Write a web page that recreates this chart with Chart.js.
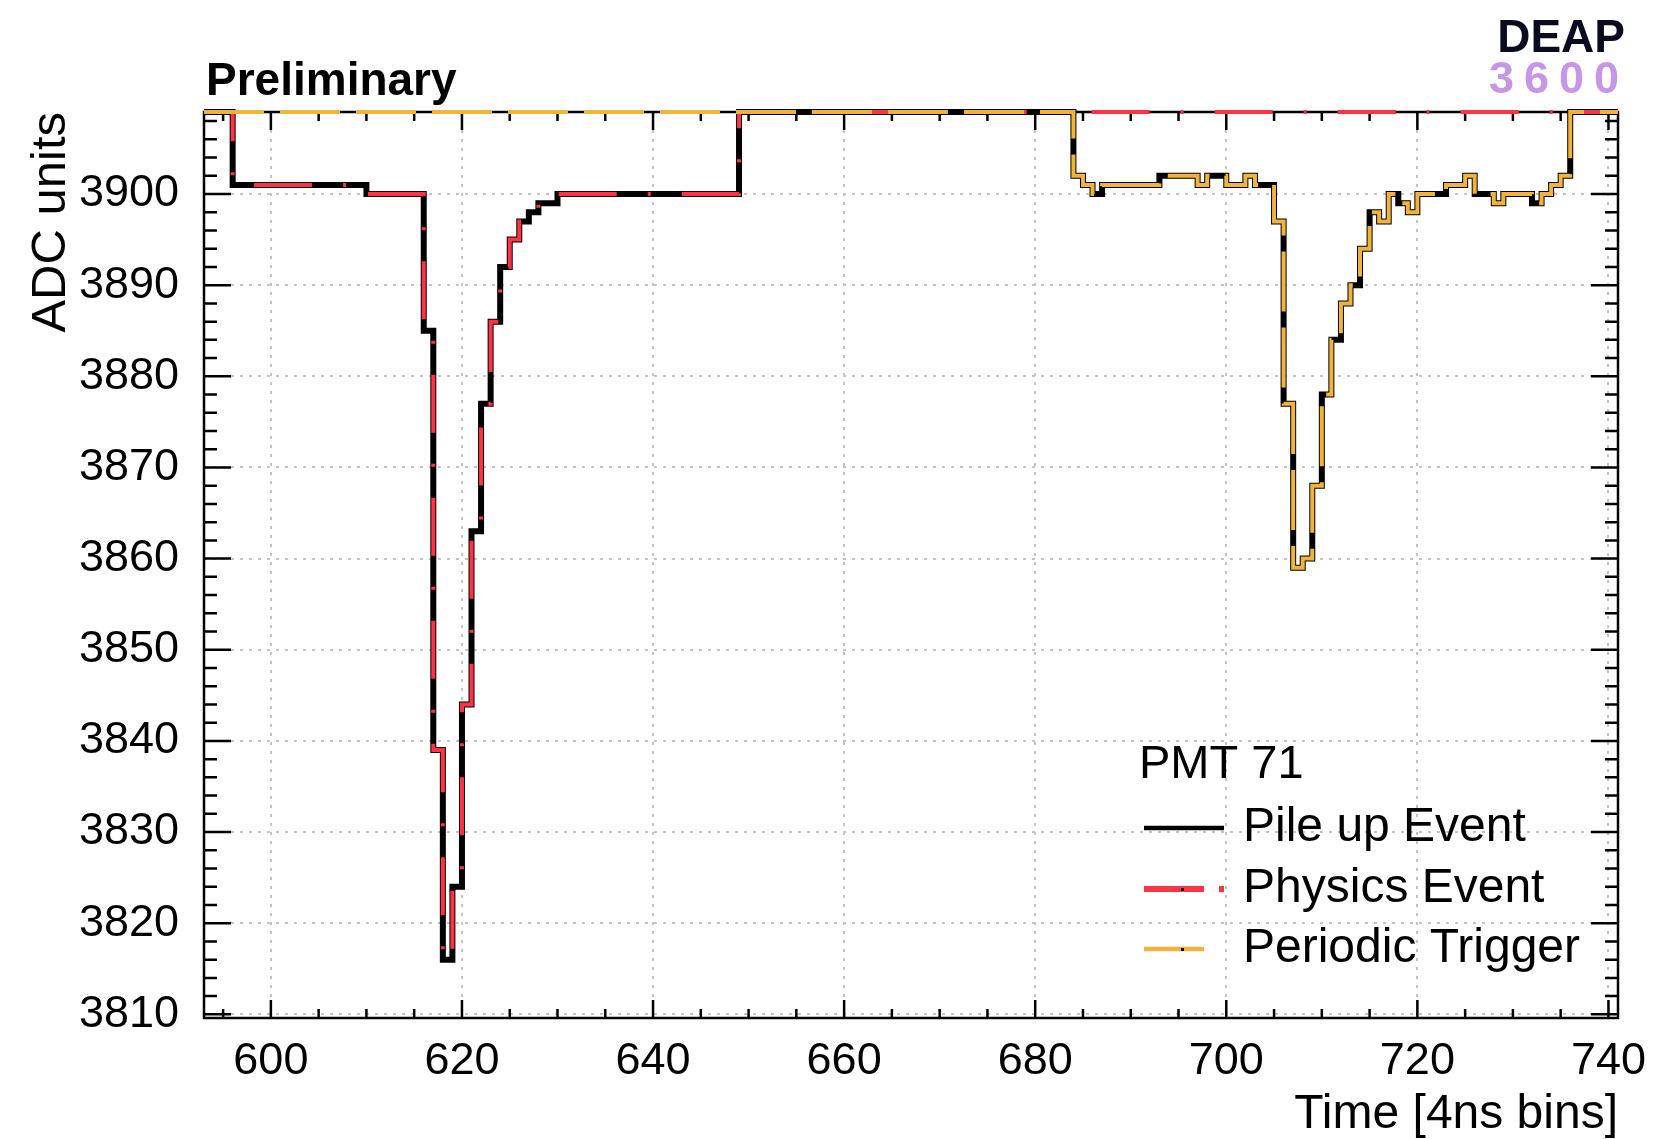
<!DOCTYPE html>
<html>
<head>
<meta charset="utf-8">
<script src="https://cdn.jsdelivr.net/npm/chart.js@4.4.1/dist/chart.umd.min.js"></script>
<style>
html,body{margin:0;padding:0;background:#ffffff;overflow:hidden;}
canvas{display:block;}
</style>
</head>
<body>
<canvas id="c" width="1654" height="1139"></canvas>
<script>
// ---------------- data ----------------
const OFF = 3920;            // off-scale sample (above the plotted range) -> drawn on the frame edge, as ROOT does
const startBin = 593;        // first 4 ns bin shown
const xMin = 593, xMax = 741;
const yMin = 3809.6, yMax = 3909;
const xTicks = [600, 620, 640, 660, 680, 700, 720, 740];
const yTicks = [3810, 3820, 3830, 3840, 3850, 3860, 3870, 3880, 3890, 3900];
const xMinorStep = 5, yMinorStep = 2;
const seriesNames = ['Pile up Event', 'Physics Event', 'Periodic Trigger'];
const legendHeader = 'PMT 71';
const xTitle = 'Time [4ns bins]';
const yTitle = 'ADC units';
const tagText = 'Preliminary';
const logoTop = 'DEAP', logoBottom = '3600';

// bins 593 ... 740, ten per row
const pileup = [
  OFF,OFF,OFF,3901,3901,3901,3901,3901,3901,3901,
  3901,3901,3901,3901,3901,3901,3901,3900,3900,3900,
  3900,3900,3900,3885,3839,3816,3824,3844,3863,3877,
  3886,3892,3895,3897,3898,3899,3899,3900,3900,3900,
  3900,3900,3900,3900,3900,3900,3900,3900,3900,3900,
  3900,3900,3900,3900,3900,3900,OFF,OFF,OFF,OFF,
  OFF,OFF,OFF,OFF,OFF,OFF,OFF,OFF,OFF,OFF,
  OFF,OFF,OFF,OFF,OFF,OFF,OFF,OFF,OFF,OFF,
  OFF,OFF,OFF,OFF,OFF,OFF,OFF,OFF,OFF,OFF,
  OFF,3902,3901,3900,3901,3901,3901,3901,3901,3901,
  3902,3902,3902,3902,3901,3902,3902,3901,3901,3902,
  3901,3901,3897,3877,3859,3860,3868,3878,3884,3888,
  3890,3894,3898,3897,3900,3899,3898,3900,3900,3900,
  3901,3901,3902,3900,3900,3899,3900,3900,3900,3899,
  3900,3901,3902,OFF,OFF,OFF,OFF,OFF
];
const physics = [
  OFF,OFF,OFF,3901,3901,3901,3901,3901,3901,3901,
  3901,3901,3901,3901,3901,3901,3901,3900,3900,3900,
  3900,3900,3900,3885,3839,3816,3824,3844,3863,3877,
  3886,3892,3895,3897,3898,3899,3899,3900,3900,3900,
  3900,3900,3900,3900,3900,3900,3900,3900,3900,3900,
  3900,3900,3900,3900,3900,3900,OFF,OFF,OFF,OFF,
  OFF,OFF,OFF,OFF,OFF,OFF,OFF,OFF,OFF,OFF,
  OFF,OFF,OFF,OFF,OFF,OFF,OFF,OFF,OFF,OFF,
  OFF,OFF,OFF,OFF,OFF,OFF,OFF,OFF,OFF,OFF,
  OFF,OFF,OFF,OFF,OFF,OFF,OFF,OFF,OFF,OFF,
  OFF,OFF,OFF,OFF,OFF,OFF,OFF,OFF,OFF,OFF,
  OFF,OFF,OFF,OFF,OFF,OFF,OFF,OFF,OFF,OFF,
  OFF,OFF,OFF,OFF,OFF,OFF,OFF,OFF,OFF,OFF,
  OFF,OFF,OFF,OFF,OFF,OFF,OFF,OFF,OFF,OFF,
  OFF,OFF,OFF,OFF,OFF,OFF,OFF,OFF
];
const periodic = [
  OFF,OFF,OFF,OFF,OFF,OFF,OFF,OFF,OFF,OFF,
  OFF,OFF,OFF,OFF,OFF,OFF,OFF,OFF,OFF,OFF,
  OFF,OFF,OFF,OFF,OFF,OFF,OFF,OFF,OFF,OFF,
  OFF,OFF,OFF,OFF,OFF,OFF,OFF,OFF,OFF,OFF,
  OFF,OFF,OFF,OFF,OFF,OFF,OFF,OFF,OFF,OFF,
  OFF,OFF,OFF,OFF,OFF,OFF,OFF,OFF,OFF,OFF,
  OFF,OFF,OFF,OFF,OFF,OFF,OFF,OFF,OFF,OFF,
  OFF,OFF,OFF,OFF,OFF,OFF,OFF,OFF,OFF,OFF,
  OFF,OFF,OFF,OFF,OFF,OFF,OFF,OFF,OFF,OFF,
  OFF,3902,3901,3900,3901,3901,3901,3901,3901,3901,
  3902,3902,3902,3902,3901,3902,3902,3901,3901,3902,
  3901,3901,3897,3877,3859,3860,3868,3878,3884,3888,
  3890,3894,3898,3897,3900,3899,3898,3900,3900,3900,
  3901,3901,3902,3900,3900,3899,3900,3900,3900,3899,
  3900,3901,3902,OFF,OFF,OFF,OFF,OFF
];

// ---------------- styling ----------------
const FONT = "'Liberation Sans', Arial, Helvetica, sans-serif";
const BLACK = '#000000', RED = '#fd3446', ORANGE = '#f0b33d';
const styles = [
  {color: BLACK, width: 6, dash: []},
  {color: RED, width: 4, dash: [58, 31, 3, 31]},
  {color: ORANGE, width: 4, dash: [60, 16]}
];

// histogram -> step points at the bin edges (off-scale content sits on the frame edge)
function histPoints(vals) {
  const pts = vals.map((v, i) => ({x: startBin + i, y: Math.min(v, yMax)}));
  pts.push({x: startBin + vals.length, y: Math.min(vals[vals.length - 1], yMax)});
  return pts;
}

function ds(idx, vals, order) {
  const s = styles[idx];
  return {
    label: seriesNames[idx],
    data: histPoints(vals),
    borderColor: s.color,
    borderWidth: s.width,
    borderDash: s.dash,
    borderCapStyle: 'butt',
    borderJoinStyle: 'miter',
    stepped: 'before',
    pointRadius: 0,
    fill: false,
    order: order,
    clip: {left: 0, top: 8, right: 0, bottom: 0}
  };
}

const framePlugin = {
  id: 'rootFrame',
  beforeDatasetsDraw(chart) {
    const {ctx, chartArea: a, scales: {x, y}} = chart;
    ctx.save();
    ctx.strokeStyle = '#000';
    ctx.lineWidth = 2.5;
    ctx.beginPath();
    for (let v = Math.ceil(xMin / xMinorStep) * xMinorStep; v <= xMax; v += xMinorStep) {
      const px = x.getPixelForValue(v);
      const len = xTicks.includes(v) ? 18 : 9;
      ctx.moveTo(px, a.bottom); ctx.lineTo(px, a.bottom - len);
      ctx.moveTo(px, a.top); ctx.lineTo(px, a.top + len);
    }
    for (let v = Math.ceil(yMin / yMinorStep) * yMinorStep; v <= yMax; v += yMinorStep) {
      const py = y.getPixelForValue(v);
      const len = yTicks.includes(v) ? 27 : 13;
      ctx.moveTo(a.left, py); ctx.lineTo(a.left + len, py);
      ctx.moveTo(a.right, py); ctx.lineTo(a.right - len, py);
    }
    ctx.stroke();
    ctx.strokeRect(a.left, a.top, a.right - a.left, a.bottom - a.top);
    ctx.restore();
  },
  afterDraw(chart) {
    const {ctx} = chart;
    ctx.save();
    ctx.textBaseline = 'alphabetic';
    ctx.fillStyle = '#000';
    ctx.font = 'bold 46px ' + FONT;
    ctx.textAlign = 'left';
    ctx.fillText(tagText, 206, 95);
    ctx.fillStyle = '#0a0b1f';
    ctx.font = 'bold 46px ' + FONT;
    ctx.textAlign = 'right';
    ctx.fillText(logoTop, 1625, 52);
    ctx.fillStyle = '#c696e7';
    ctx.font = 'bold 45px ' + FONT;
    ctx.textAlign = 'left';
    let lx = 1489;
    for (const ch of logoBottom) {
      ctx.fillText(ch, lx, 93);
      lx += 35;
    }
    ctx.fillStyle = '#000';
    ctx.font = '47px ' + FONT;
    ctx.fillText(legendHeader, 1139, 778);
    const rows = [841, 902, 962];
    const lineY = [828, 889, 949];
    const legendDash = [[], [60, 15, 5, 200], [60, 200]];
    const legendWidth = [4.5, 6, 4.5];
    for (let i = 0; i < 3; i++) {
      ctx.font = '48px ' + FONT;
      ctx.fillStyle = '#000';
      ctx.fillText(seriesNames[i], 1243, rows[i]);
      ctx.beginPath();
      ctx.setLineDash(legendDash[i]);
      ctx.lineCap = 'butt';
      ctx.strokeStyle = styles[i].color;
      ctx.lineWidth = legendWidth[i];
      ctx.moveTo(1144, lineY[i]); ctx.lineTo(1224, lineY[i]);
      ctx.stroke();
      ctx.setLineDash([]);
      if (i > 0) { ctx.fillStyle = '#000'; ctx.fillRect(1181, lineY[i] - 1, 3, 3); }
    }
    ctx.restore();
  }
};

new Chart(document.getElementById('c'), {
  type: 'line',
  data: {
    datasets: [
      ds(2, periodic, 0),
      ds(1, physics, 1),
      ds(0, pileup, 2)
    ]
  },
  options: {
    responsive: false,
    animation: false,
    devicePixelRatio: 1,
    layout: {padding: {top: 112, right: 36, left: 0, bottom: 0}},
    plugins: {legend: {display: false}, tooltip: {enabled: false}},
    elements: {line: {tension: 0}, point: {radius: 0}},
    scales: {
      x: {
        type: 'linear', min: xMin, max: xMax,
        afterBuildTicks: s => { s.ticks = xTicks.map(v => ({value: v})); },
        afterFit: s => { s.height = 121; s.paddingLeft = 0; s.paddingRight = 0; },
        ticks: {font: {family: FONT, size: 45}, color: '#000', padding: 17, maxRotation: 0, autoSkip: false, includeBounds: false,
                callback: v => String(v)},
        grid: {color: '#c4c4c4', lineWidth: 2, drawTicks: false},
        border: {display: false, dash: [3, 6]},
        title: {display: true, text: xTitle, align: 'end', color: '#000', font: {family: FONT, size: 48}, padding: {top: 0, bottom: -5}}
      },
      y: {
        type: 'linear', min: yMin, max: yMax,
        afterBuildTicks: s => { s.ticks = yTicks.map(v => ({value: v})); },
        afterFit: s => { s.width = 204; s.paddingTop = 0; s.paddingBottom = 0; },
        ticks: {font: {family: FONT, size: 45}, color: '#000', padding: 25, includeBounds: false,
                callback: v => String(v)},
        grid: {color: '#c4c4c4', lineWidth: 2, drawTicks: false},
        border: {display: false, dash: [3, 6]},
        title: {display: true, text: yTitle, align: 'end', color: '#000', font: {family: FONT, size: 49}, padding: {top: 22, bottom: 0}}
      }
    }
  },
  plugins: [framePlugin]
});
</script>
</body>
</html>
